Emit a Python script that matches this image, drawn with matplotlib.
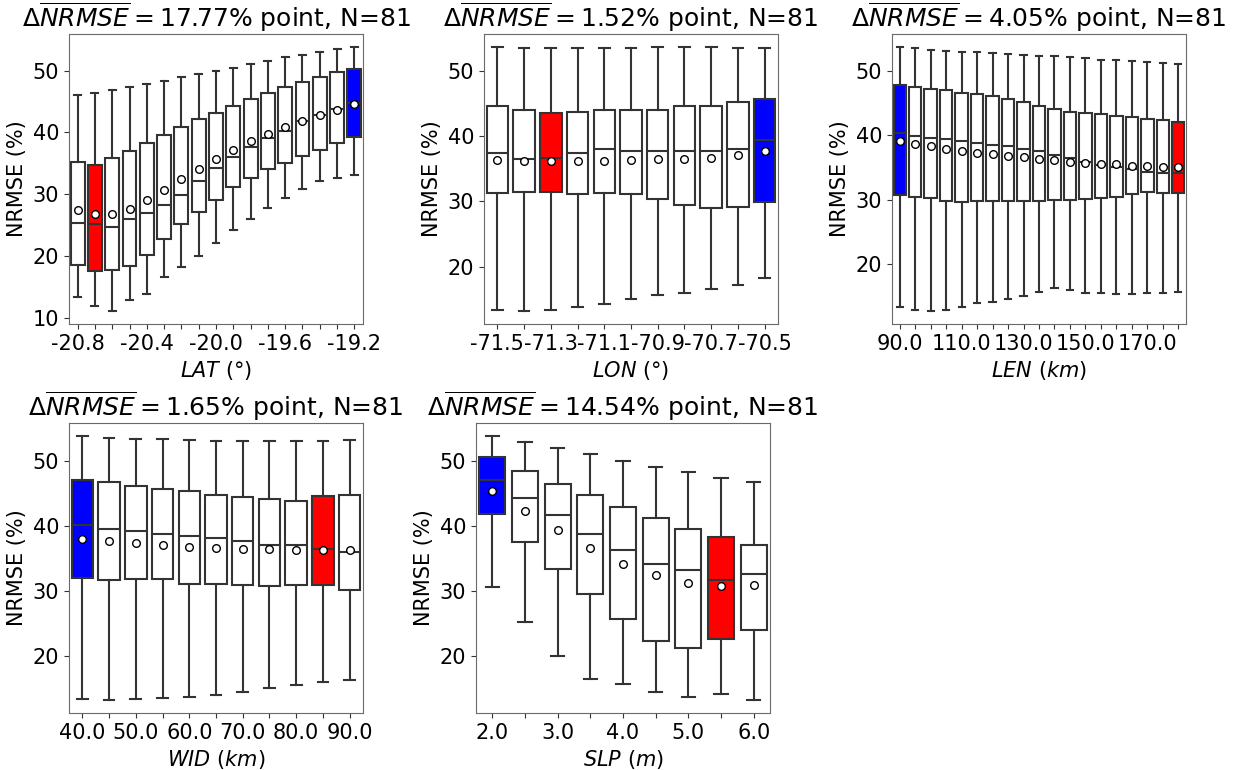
import matplotlib
matplotlib.use("Agg")
import matplotlib.pyplot as plt
import numpy as np

plt.rcParams['font.family'] = ['DejaVu Sans']
plt.rcParams['mathtext.fontset'] = 'dejavusans'

# ---------------- LAT ----------------
lat_values = [-20.8, -20.7, -20.6, -20.5, -20.4, -20.3, -20.2, -20.1, -20.0,
              -19.9, -19.8, -19.7, -19.6, -19.5, -19.4, -19.3, -19.2]
lat_whislo = [13.4, 11.8, 11.1, 12.9, 13.9, 16.5, 18.2, 20.0, 22.1, 24.2, 26.0, 27.7, 29.4, 30.8, 32.1, 32.6, 33.1]
lat_q1 = [18.6, 17.6, 17.7, 18.4, 20.2, 22.7, 25.1, 27.1, 29.1, 31.1, 32.6, 34.0, 35.1, 36.2, 37.2, 38.2, 39.2]
lat_med = [25.3, 25.1, 24.7, 26.0, 27.0, 28.2, 29.9, 32.1, 34.2, 36.0, 37.7, 39.1, 40.3, 41.8, 42.8, 43.8, 44.8]
lat_q3 = [35.25, 34.7, 35.8, 37.0, 38.3, 39.5, 40.8, 42.1, 43.2, 44.3, 45.4, 46.4, 47.3, 48.2, 48.9, 49.7, 50.3]
lat_whishi = [46.1, 46.4, 46.8, 47.3, 47.9, 48.3, 48.9, 49.4, 49.9, 50.4, 51.0, 51.6, 52.2, 52.6, 53.1, 53.5, 53.8]
lat_mean = [27.5, 26.78, 26.85, 27.6, 29.0, 30.6, 32.4, 34.1, 35.7, 37.2, 38.6, 39.8, 40.9, 41.9, 42.8, 43.7, 44.55]

# ---------------- LON ----------------
lon_values = [-71.5, -71.4, -71.3, -71.2, -71.1, -71.0, -70.9, -70.8, -70.7, -70.6, -70.5]
lon_whislo = [13.3, 13.2, 13.4, 13.8, 14.3, 15.0, 15.7, 16.0, 16.5, 17.2, 18.2]
lon_q1 = [31.25, 31.4, 31.4, 31.15, 31.3, 31.1, 30.4, 29.4, 29.0, 29.2, 29.9]
lon_med = [37.5, 36.5, 36.65, 37.4, 38.0, 37.8, 37.7, 37.7, 37.7, 38.1, 39.4]
lon_q3 = [44.6, 44.0, 43.6, 43.8, 44.0, 44.1, 44.1, 44.6, 44.6, 45.3, 45.7]
lon_whishi = [53.7, 53.6, 53.6, 53.6, 53.6, 53.6, 53.7, 53.7, 53.7, 53.6, 53.5]
lon_mean = [36.4, 36.25, 36.2, 36.25, 36.25, 36.35, 36.45, 36.55, 36.75, 37.1, 37.72]

# ---------------- LEN ----------------
len_values = [90.0, 95.0, 100.0, 105.0, 110.0, 115.0, 120.0, 125.0, 130.0, 135.0,
              140.0, 145.0, 150.0, 155.0, 160.0, 165.0, 170.0, 175.0, 180.0]
len_whislo = [13.4, 13.0, 12.8, 13.0, 13.4, 14.0, 14.2, 14.6, 15.1, 15.7, 16.3, 16.0, 15.6, 15.5, 15.4, 15.4, 15.5, 15.6, 15.7]
len_q1 = [30.75, 30.5, 30.3, 29.8, 29.7, 29.8, 29.9, 29.8, 29.8, 29.9, 30.0, 30.0, 30.2, 30.3, 30.5, 30.9, 31.2, 31.1, 31.1]
len_med = [40.4, 39.85, 39.65, 39.4, 39.1, 38.9, 38.6, 38.3, 37.85, 37.6, 37.0, 36.5, 35.9, 35.4, 35.1, 34.8, 34.4, 34.25, 34.25]
len_q3 = [47.9, 47.5, 47.2, 47.0, 46.65, 46.4, 46.1, 45.7, 45.2, 44.6, 44.1, 43.7, 43.5, 43.3, 43.0, 42.8, 42.6, 42.4, 42.1]
len_whishi = [53.7, 53.55, 53.3, 53.1, 53.0, 52.9, 52.8, 52.7, 52.5, 52.4, 52.3, 52.2, 52.0, 51.75, 51.65, 51.55, 51.4, 51.3, 51.1]
len_mean = [39.13, 38.7, 38.3, 37.95, 37.6, 37.3, 37.1, 36.8, 36.6, 36.4, 36.15, 35.95, 35.8, 35.65, 35.5, 35.3, 35.2, 35.15, 35.08]

# ---------------- WID ----------------
wid_values = [40.0, 45.0, 50.0, 55.0, 60.0, 65.0, 70.0, 75.0, 80.0, 85.0, 90.0]
wid_whislo = [13.4, 13.2, 13.3, 13.5, 13.7, 14.0, 14.4, 15.0, 15.5, 16.0, 16.3]
wid_q1 = [31.95, 31.6, 31.8, 31.8, 31.05, 31.05, 30.9, 30.75, 30.85, 30.85, 30.1]
wid_med = [40.1, 39.45, 39.15, 38.75, 38.5, 38.1, 37.6, 37.1, 37.05, 36.5, 35.95]
wid_q3 = [47.05, 46.7, 46.1, 45.7, 45.3, 44.75, 44.4, 44.1, 43.8, 44.65, 44.8]
wid_whishi = [53.8, 53.5, 53.4, 53.3, 53.2, 53.1, 53.1, 53.1, 53.1, 53.1, 53.2]
wid_mean = [37.89, 37.6, 37.3, 37.0, 36.75, 36.6, 36.45, 36.35, 36.28, 36.24, 36.27]

# ---------------- SLP ----------------
slp_values = [2.0, 2.5, 3.0, 3.5, 4.0, 4.5, 5.0, 5.5, 6.0]
slp_whislo = [30.65, 25.3, 20.0, 16.6, 15.7, 14.6, 13.75, 14.2, 13.35]
slp_q1 = [41.8, 37.5, 33.35, 29.55, 25.7, 22.4, 21.3, 22.7, 24.1]
slp_med = [47.0, 44.3, 41.6, 38.7, 36.35, 34.15, 33.2, 31.65, 32.6]
slp_q3 = [50.5, 48.4, 46.45, 44.7, 42.9, 41.2, 39.6, 38.3, 37.1]
slp_whishi = [53.75, 52.85, 51.9, 51.0, 50.0, 49.0, 48.2, 47.4, 46.7]
slp_mean = [45.36, 42.3, 39.35, 36.55, 34.2, 32.45, 31.3, 30.82, 30.95]

n_runs = 81
line_col = '#333333'

panels = [
    dict(vals=lat_values, lo=lat_whislo, q1=lat_q1, med=lat_med, q3=lat_q3, hi=lat_whishi,
         mean=lat_mean, xlabel=r'$LAT$ (°)', every=4, delta='17.77'),
    dict(vals=lon_values, lo=lon_whislo, q1=lon_q1, med=lon_med, q3=lon_q3, hi=lon_whishi,
         mean=lon_mean, xlabel=r'$LON$ (°)', every=2, delta='1.52'),
    dict(vals=len_values, lo=len_whislo, q1=len_q1, med=len_med, q3=len_q3, hi=len_whishi,
         mean=len_mean, xlabel=r'$LEN$ $(km)$', every=4, delta='4.05'),
    dict(vals=wid_values, lo=wid_whislo, q1=wid_q1, med=wid_med, q3=wid_q3, hi=wid_whishi,
         mean=wid_mean, xlabel=r'$WID$ $(km)$', every=2, delta='1.65'),
    dict(vals=slp_values, lo=slp_whislo, q1=slp_q1, med=slp_med, q3=slp_q3, hi=slp_whishi,
         mean=slp_mean, xlabel=r'$SLP$ $(m)$', every=2, delta='14.54'),
]

# axes rectangles in figure pixels (left, top)
W, H = 1241, 770
rects_px = [(69, 34), (484, 34), (892, 34), (69, 423), (476, 423)]
ax_w, ax_h = 294, 290

fig = plt.figure(figsize=(W / 100, H / 100), dpi=100)

for p, (lx, ty) in zip(panels, rects_px):
    ax = fig.add_axes([lx / W, (H - ty - ax_h) / H, ax_w / W, ax_h / H])
    n = len(p['vals'])
    stats = []
    for i in range(n):
        stats.append(dict(whislo=p['lo'][i], q1=p['q1'][i], med=p['med'][i],
                          q3=p['q3'][i], whishi=p['hi'][i], mean=p['mean'][i],
                          fliers=[]))
    pos = np.arange(n)
    bp = ax.bxp(stats, positions=pos, widths=0.8, patch_artist=True,
                showmeans=True, showfliers=False,
                boxprops=dict(edgecolor=line_col, linewidth=1.5),
                medianprops=dict(color=line_col, linewidth=1.5),
                whiskerprops=dict(color=line_col, linewidth=1.5),
                capprops=dict(color=line_col, linewidth=1.5),
                meanprops=dict(marker='o', markerfacecolor='white',
                               markeredgecolor='black', markersize=5.5,
                               markeredgewidth=1.0))
    imin = int(np.argmin(p['mean']))
    imax = int(np.argmax(p['mean']))
    for i, box in enumerate(bp['boxes']):
        if i == imin:
            box.set_facecolor('red')
        elif i == imax:
            box.set_facecolor('blue')
        else:
            box.set_facecolor('white')
    ax.set_xlim(-0.5, n - 0.5)
    ax.set_xticks(pos)
    ax.set_xticklabels([f'{v:.1f}' if i % p['every'] == 0 else ''
                        for i, v in enumerate(p['vals'])])
    ax.tick_params(labelsize=15, color='#333333')
    for sp in ax.spines.values():
        sp.set_edgecolor('#6a6a6a')
    ax.set_ylabel('NRMSE (%)', fontsize=15)
    ax.set_xlabel(p['xlabel'], fontsize=15)
    ax.set_yticks([10, 20, 30, 40, 50] if min(p['lo']) < 12 else [20, 30, 40, 50])
    ax.set_title(r'$\Delta\overline{NRMSE} = ' + p['delta'] + r'\%$ point, N=' + str(n_runs),
                 fontsize=18, pad=0.5)
    lo_all, hi_all = min(p['lo']), max(p['hi'])
    rng = hi_all - lo_all
    ax.set_ylim(lo_all - 0.05 * rng, hi_all + 0.05 * rng)

fig.savefig('out.png', dpi=100)
